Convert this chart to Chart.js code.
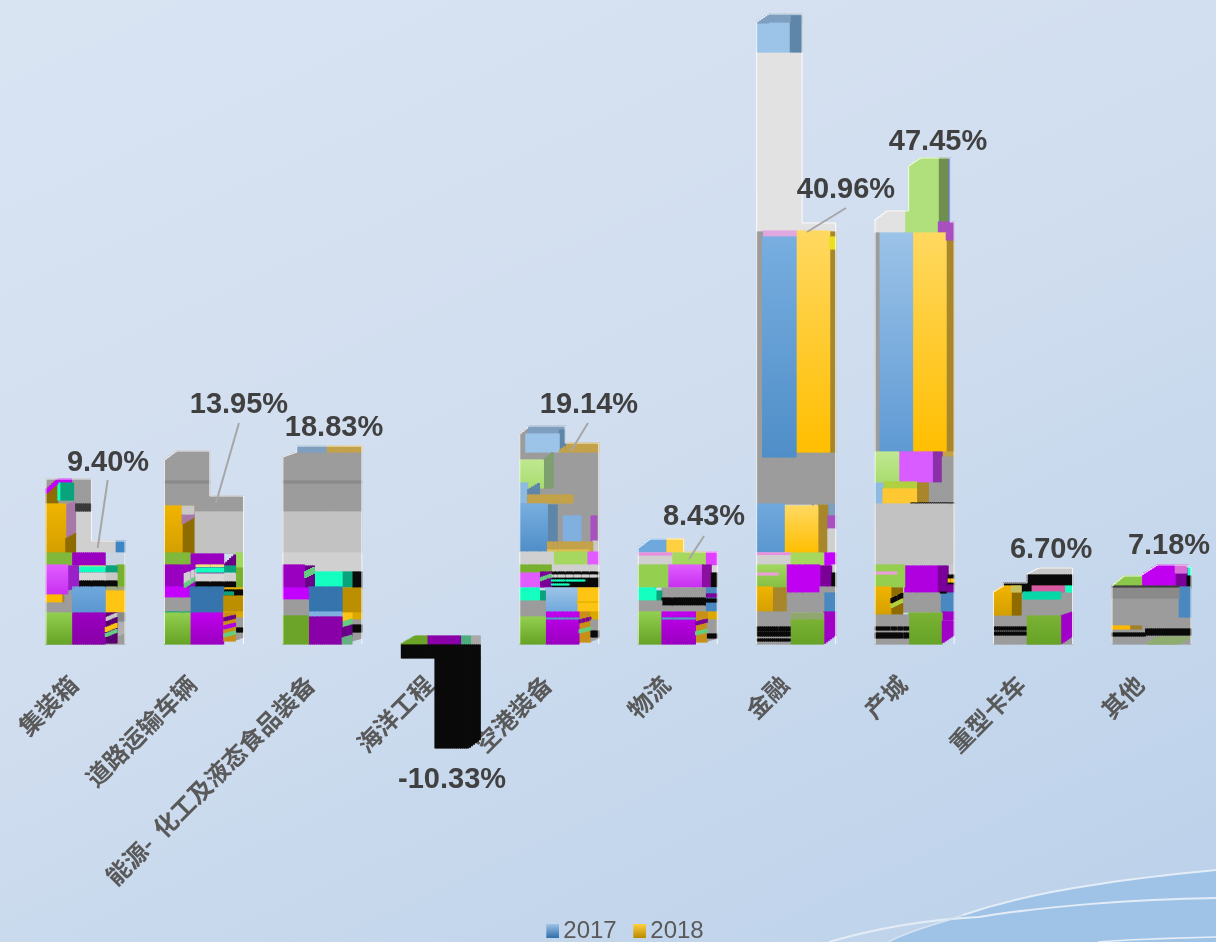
<!DOCTYPE html>
<html lang="zh">
<head>
<meta charset="utf-8">
<title>Chart</title>
<script src="https://cdn.jsdelivr.net/npm/chart.js@4"></script>
<style>
html,body{margin:0;padding:0;width:1216px;height:942px;overflow:hidden}
body{position:relative;background:linear-gradient(155deg,#d9e4f3 0%,#d1deef 45%,#bbd1ea 100%)}
svg,canvas{position:absolute;left:0;top:0}
</style>
</head>
<body>
<svg width="1216" height="942" viewBox="0 0 1216 942">
<path d="M888 942C915 928 940 924 963 915C1005 901 1045 892 1093 885C1135 878 1175 874 1216 870V942Z" fill="#9fc3e6"/>
<path d="M829 942C870 930 920 920 979 917C1040 907 1130 899 1216 898" fill="none" stroke="#e4edf7" stroke-width="2"/>
<path d="M963 915C1005 901 1045 892 1093 885C1135 878 1175 874 1216 870" fill="none" stroke="#e4edf7" stroke-width="2"/>
<path d="M888 942C915 928 940 924 963 915" fill="none" stroke="#d6e3f2" stroke-width="1.5"/>
<path d="M1098 942C1135 939 1175 938 1216 937" fill="none" stroke="#e4edf7" stroke-width="1.5"/>
</svg>
<canvas id="c" width="1216" height="942"></canvas>
<script>
const categories=['集装箱','道路运输车辆','能源-  化工及液态食品装备','海洋工程','空港装备','物流','金融','产城','重型卡车','其他'];
const series2017=[5.7,5.7,5.6,0.7,14,9.5,40,41,5,5.7];
const series2018=[9.40,13.95,18.83,-10.33,19.14,8.43,40.96,47.45,6.70,7.18];
const labelDx=[22.5,35,11.6,11.2,29.7,26.3,49.8,23.4,18,17.5];
const labelDy=[-87,-99.5,-27.7,32.7,-47.6,-42.7,-44.4,-27.5,-27,-26.2];
const leaders=[[22.2,-70,12.2,-2],[35,-81.5,12,-1.5],null,null,[28.7,-29.6,11.7,-1.6],[26.3,-23.7,11.3,-.7],[49.8,-26.4,10.8,-2.4],null,null,null];
const palette={gy:'#9c9c9c',lg:'#c2c2c2',vl:'#d0d0d0',wh:'#e2e2e2',k:'#0a0a0a',vi:'#c400ff',dp:'#6a0088',aq:'#14ffc0',te:'#0aa37c',br:'#8f6c00',tan:'#c4a24a',bm:'#3674ad',ygn:'#a6d860',
 gn:['#92cf50','#66a326'],gnd:['#7ab234','#66a326'],gnl:['#a0d860','#80b83c'],lgn:['#c0e890','#a8dc70'],pu:['#9a00c0','#8800a8'],pv:['#c000ee','#9a00c0'],mg:['#e05cff','#c830f0'],
 bl:['#78aee0','#4f8ec8'],bl2:['#6fa8dc','#5a96d0'],bl2b:['#9cc3e8','#5f9ad4'],bl3:['#9cc3e8','#6fa8dc'],ye:['#ffd860','#ffbe00'],am:['#f0b400','#d49f00']};

// each row: sub-column from, sub-column to, upper value, lower value, paint, optional rise of upper and lower value
const patchesContainer=[
[0,45,16.5,0,'gy'],[45,79,10.3,0,'gy'],[30,45,13.3,9.1,'vl'],[45,69,10.3,9.1,'vl'],[30,45,14,13.3,'#3a3a3a'],[69,79,10.3,9.1,'#3d85c6'],
[0,11,15.4,14,'br',1.1,0],[0,11,15.4,15,'vi',1.1,1.1],[11,26,16.5,16.1,'vi'],[11,27,16.1,14.4,'te'],[11,14,16.1,14.4,'aq'],
[0,19,14,9.1,'am'],[19,30,13.9,10.5,'#a878a8',.3,.6],[19,30,10.5,9.1,'br',.6,0],
[0,26,9.1,7.9,'#80b83c'],[26,60,9.1,7.9,'#9a00c0'],[60,79,9.1,7.9,'#c8d4e4'],[0,22,7.9,4.9,'mg'],[22,33,7.8,5.4,'#9a20c8',0,.3],
[33,60,7.8,5.6,'#6a0088'],[33,60,7.8,7.7,'#f0e080'],[33,60,7.7,7.2,'aq'],[33,60,7.1,6.3,'#d8d8d8'],[33,60,6.3,5.6,'k'],[60,71,7.8,7.1,'te'],[60,71,7.1,6.3,'#c8c8c8'],[60,71,6.3,5.6,'k'],[71,79,7.9,5.7,'#78b030'],
[0,15,4.9,4.1,'#ffb800'],[15,18,4.9,4.1,'#a8862a'],[18,26,4.9,4.1,'gy'],[0,26,4.1,3.1,'gy'],[26,60,5.7,3.1,'bl2'],[60,79,5.7,5.3,'#a0a880'],[60,79,5.3,3.2,'#ffc414'],
[0,26,3.1,0,'gn'],[26,60,3.1,0,'pu'],[60,71,3.1,.1,'#5a0070'],[60,71,2.6,2.3,'#c8c8c8',.5,.5],[60,71,1.6,1.2,'#ffc414',.5,.5],[60,71,1,.7,'#66cc80',.5,.5],
[71,79,3.1,.8,'#b0b0b0',0,.3],[71,79,3.1,2.3,'#8a8a8a']];
const patchesRoad=[
[0,11,18.4,9.1,'gy',.9,0],[11,45,19.3,9.1,'gy'],[45,79,14.8,9.1,'gy'],[0,45,16.3,16.1,'#8a8a8a'],[30,79,13.2,9.1,'lg'],[0,18,13.8,9.1,'am'],[18,30,13.8,9.1,'br'],[18,30,13,12,'#a878a8',.7,.7],[18,30,13.8,13,'#c8c8c8'],
[0,25,9.1,7.9,'#80b83c'],[25,59,9,7.9,'#9a00c0'],[59,71,7.9,7.8,'dp',1.1,0],[71,79,9.1,7.6,'#a0d860'],[71,79,7.6,5.6,'#78b030'],
[0,20,7.9,5.7,'#9a00c0'],[0,25,5.7,4.6,'vi'],[20,32,7.9,5.7,'#9a00c0'],[20,32,7,6,'#d0d0d0',.5,.5],[20,32,6,5.6,'#66cc80',.8,.8],
[32,59,7.9,5.7,'#7a2090'],[32,59,7.9,7.75,'#f0e080'],[32,59,7.6,7.2,'aq'],[32,59,7,6.2,'#d8d8d8'],[32,59,6.2,5.7,'k'],[59,71,7.8,7.2,'te'],[59,71,7,6.2,'#d0d0d0'],[59,71,6.2,5.7,'k'],
[25,59,5.7,3.1,'bm'],[59,79,5.6,5.4,'am'],[59,79,5.4,4.8,'k'],[59,70,5.2,4.9,'te'],[59,79,4.8,3.2,'#bb8f00'],[59,79,3.2,2.6,'#dba800'],[0,25,4.6,3.2,'gy'],[0,25,3.2,3.1,'te'],
[0,25,3.1,0,'gn'],[25,59,3.1,0,'pv'],[59,71,3.1,.3,'#c89018'],[59,71,2.6,2.3,'#6a0088',.3,.3],[59,71,1.8,1.5,'#b000e8',.3,.3],[59,71,1,.7,'#66cc80',.3,.3],[71,79,2.6,.4,'gy',0,.3],[71,79,1.6,1.2,'k']];
const patchesEnergy=[
[0,13,18.7,9.1,'gy',.5,0],[13,79,19.2,9.1,'gy'],[13,44,19.8,19.2,'#7f9fc0'],[44,79,19.8,19.2,'tan'],[0,79,16.3,16.1,'#8a8a8a'],[0,79,13.2,9.1,'lg'],[0,79,9.1,7.2,'vl'],
[0,21,7.9,5.6,'#9a00c0'],[21,32,7.8,5.4,'dp'],[21,32,7.2,6.6,'#66cc80',.5,.5],[32,59,7.2,5.7,'aq'],[59,70,7.2,5.7,'te'],[70,79,7.2,5.6,'k'],[0,25,5.6,4.4,'vi'],
[25,59,5.7,3.2,'bm'],[25,59,3.2,2.7,'#7fb0e0'],[59,79,5.6,3.1,'#bb8f00'],[70,79,3.1,2.4,'#dba800'],[0,25,4.4,2.8,'gy'],[0,25,2.8,0,'#6ba428'],[25,59,2.7,0,'#8a00a8'],
[59,70,3.1,2.2,'#ffc414'],[59,70,2.2,1.2,'#66cc80',.3,.3],[59,70,1.6,.5,'#6a0088',.3,.3],[59,70,.6,0,'#66b080',.3,0],[70,79,2.4,.3,'gy',0,.3],[70,79,1.9,1.2,'k']];
const patchesMarine=[
[0,14,0,-.1,'#6ba428',.8,0],[14,26,.8,-.1,'#6ba428'],[26,60,.8,-.1,'#8a00a8'],[60,70,.8,-.1,'#4caf7a'],[70,79,.8,-.1,'#a8a8a8'],[0,79,-.1,-1.4,'k'],[34,68,-1.4,-10.4,'k'],[68,79,-1.4,-10.4,'k',0,.9]];
const patchesAirport=[
[0,10,21,9.1,'gy',.8,0],[10,45,21.8,9.1,'gy'],[45,79,20.1,9.1,'gy'],[8,45,21.8,21,'#7f9fc0'],[6,39,21,19.2,'#9cc3e8'],[39,45,21.4,19.5,'#5f86a8'],[39,50,19.3,19.2,'tan',.8,0],[50,79,20.1,19.2,'tan'],
[0,23,18.4,15.6,'lgn'],[23,34,18.4,15.6,'#7f9f70',.8,0],[0,7,16.1,14.1,'#8ebae0'],[7,19,15.4,14.2,'#5f86a8',.7,0],[8,53,14.9,14.1,'tan'],[0,27,14,9.2,'bl'],[27,38,13.9,9.2,'#5f86a8'],
[44,61,12.8,10.3,'#7fb0e0'],[71,77,12.8,10.3,'#a850c0'],[27,73,10.2,9.2,'tan'],[27,70,9.4,9.2,'#e0c050'],[73,79,10.3,9.2,'#c8c8c8'],
[0,33,9.2,7.9,'vl'],[33,68,9.2,7.9,'ygn'],[68,79,9.2,7.9,'#e05cff'],[0,32,7.9,7.1,'#78b030'],[32,79,7.9,7.2,'vl'],[0,20,7.1,5.7,'#e05cff'],[20,32,7.2,5.7,'#7a0098'],[20,32,6.6,6.3,'#66cc80',.4,.4],
[32,79,7.2,5.7,'k'],[32,79,6.9,6.7,'#d0d0d0'],[32,65,6.4,6.3,'aq'],[32,50,6,5.9,'aq'],[0,20,5.6,4.3,'aq'],[20,25,5.3,4.3,'te'],[0,25,4.3,2.7,'gy'],[25,58,5.6,3.2,'bl3'],[58,79,5.6,3.2,'#ffc414'],[58,79,4.25,4.15,'#e8b800'],[71,79,3.2,2.4,'#dba800'],
[0,26,2.7,0,'gn'],[26,59,3.2,0,'pv'],[26,59,2.6,2.5,'#50a0c0'],[59,71,3.2,.2,'#c89018'],[59,71,2.4,2.1,'#7a0098',.3,.3],[59,71,1.4,1.1,'#66cc80',.3,.3],[71,79,2.4,.3,'gy',0,.3],[71,79,1.3,.7,'k']];
const patchesLogistics=[
[0,11,9.6,9.1,'#6fa8dc',.9,0],[11,27,10.5,9.1,'#6fa8dc'],[27,45,10.5,9.2,'#ffd040'],[45,79,9.2,9.1,'tan'],[0,33,9.1,7.9,'vl'],[0,33,9.1,8.9,'#e890e0'],[33,68,9.1,7.9,'ygn'],[68,79,9.2,7.9,'#e040ff'],
[0,29,7.9,5.7,'#94cf50'],[29,63,7.9,5.7,'mg'],[63,74,7.9,5.7,'#8a10a0'],[74,79,7.8,7.1,'#d8d8d8'],[74,79,7.1,5.7,'k'],[0,18,5.6,4.3,'aq'],[18,23,5.3,4.3,'te'],[23,67,5.6,4.6,'gy'],[23,67,4.6,3.8,'k'],[0,23,4.3,3.2,'gy'],[23,67,3.8,3.2,'gy'],
[67,79,5.6,3.2,'#4a88c0'],[67,79,5,4.7,'#7a0098'],[67,79,4.5,4.2,'k'],[0,24,3.2,0,'gn'],[24,58,3.2,0,'pv'],[24,58,2.6,2.5,'#50a0c0'],[58,69,3.2,.2,'#c89018'],[58,69,2.2,1.9,'#7a0098',.3,.3],[58,69,1.2,.9,'#66cc80',.3,.3],[69,79,3.2,2.4,'#dba800'],[69,79,2.4,.3,'gy',0,.3],[69,79,1,.6,'k']];
const patchesFinance=[
[0,45,59.2,41.2,'wh'],[45,79,42.1,41.2,'wh'],[0,34,62.2,59.2,'#9cc3e8'],[0,11,62.2,62.1,'#7f9fc0',.8,0],[11,45,63,62.2,'#7f9fc0'],[34,45,62.8,59.2,'#5f86a8'],
[0,79,19.2,14,'gy'],[0,5,41.2,18.9,'gy'],[5,6,41.2,18.7,'#607080'],[6,39,41.3,40.7,'#e0a8e0'],[6,39,40.7,18.7,'bl'],[39,73,41.3,19.2,'ye'],[73,79,41.2,19.2,'#a8862a'],[73,79,40.7,39.5,'#e8e020'],
[0,27,14,9.1,'bl2'],[27,61,13.8,9.1,'ye'],[61,72,13.9,9.1,'#a8862a'],[72,79,14,12.8,'#7f9fc0'],[72,79,12.8,11.5,'#a850c0'],[72,79,11.5,9.1,'vl'],
[0,33,9.1,7.9,'vl'],[0,33,9.1,8.95,'#e890e0'],[33,68,9.1,7.9,'ygn'],[68,79,9.1,7.9,'vi'],[0,29,7.9,5.1,'gnl'],[0,22,7.1,6.9,'#e8a0d8'],[29,63,7.9,5.1,'#c000f0'],[63,75,7.8,5.7,'#7a0098'],[75,79,7.9,7.1,'vl'],[75,79,7.1,5.7,'k'],
[63,79,5.7,5.1,'gy'],[0,16,5.7,3.2,'am'],[16,29,5.6,3.2,'#a8862a'],[29,67,5.1,3.2,'gy'],[67,79,5.1,3.2,'#4a88c0'],[0,34,3.2,0,'gy'],[0,34,1.7,1.3,'k'],[0,34,1.2,.8,'k'],[0,34,.5,.3,'k'],
[34,68,3.1,2.4,'#90a870'],[34,68,2.4,0,'gnd'],[68,79,3.2,0,'#a000c8',0,.9]];
const patchesCity=[
[0,11,42.4,41.1,'wh',.9,0],[11,30,43.3,41.1,'wh'],[30,34,43.3,41.1,'#b0e07c'],[34,45,47.8,41.1,'#b0e07c',.8,0],[45,63,48.6,41.1,'#b0e07c'],[63,74,48.6,42.2,'#6f8f50'],[74,75,48.6,42.2,'#6070e0'],[63,79,42.2,41.1,'#a850c0'],
[0,4,41.1,19.2,'gy'],[4,38,41.1,19.2,'bl2b'],[38,72,41.1,19.2,'ye'],[72,79,40.4,19.2,'#a8862a'],[72,79,41.1,40.4,'#a850c0'],
[0,23,19.2,16.2,'lgn'],[23,57,19.2,16.1,'#d85cff'],[57,68,19.2,16.1,'#8a30a8'],[68,79,19.2,18.7,'tan'],[68,79,18.7,14.1,'gy'],[53,68,16.1,14.1,'gy'],[0,7,16.1,14,'#8ebae0'],[7,41,16.2,15.5,'#b0d040'],[7,41,15.5,14,'#ffc832'],[41,53,16.1,14,'#a8862a'],[36,79,14.1,14,'k'],
[0,79,14,7.9,'lg'],[0,29,7.9,5.7,'#94cf50'],[0,22,7.2,7,'#e8a0d8'],[29,63,7.8,5.1,'#b000e0'],[63,74,7.8,5.1,'#7a0098'],[74,79,7.9,6.9,'#c8c8c8'],[74,79,6.9,5.9,'k'],[74,79,6.5,6.2,'#ffc414'],[74,79,5.9,5.1,'#7a0098'],
[0,16,5.7,2.9,'am'],[16,28,5.6,2.9,'br'],[16,28,4.5,4.1,'k',.6,.6],[16,28,3.9,3.6,'#b0d040',.6,.6],[28,66,5.1,3.2,'gy'],[66,79,5.1,3.2,'#4a88c0'],[66,72,5.2,5.1,'k'],
[0,34,2.9,0,'gy'],[0,34,1.7,1.4,'k'],[0,34,1.1,.6,'k'],[34,68,3.1,0,'gnd'],[68,79,3.2,2.4,'#a000c8'],[68,79,2.3,.1,'#a000c8',0,.8]];
const patchesTruck=[
[0,79,5.2,0,'gy'],[34,46,7,6.9,'#c8c8c8',.6,0],[46,79,7.6,6.9,'#c8c8c8'],[34,79,6.9,5.8,'k'],[9,38,6.1,5.2,'k'],[38,72,5.8,5.2,'#d85aa0'],[72,79,5.8,5.2,'aq'],
[0,9,5.2,2.9,'am',.6,0],[9,17,5.8,2.9,'am'],[17,28,5.8,2.9,'br'],[17,28,5.8,5.2,'#c8c060'],[29,67,5.2,4.5,'#08d8a8'],[0,34,1.7,1.4,'k'],[0,34,1.2,.9,'k'],[34,68,2.8,0,'gnd'],[68,79,2.8,0,'#a000c8',.4,.8]];
const patchesOther=[
[0,79,5.8,0,'gy'],[0,11,5.8,5.7,'#8cc84a',1,0],[11,30,6.8,5.7,'#8cc84a'],[30,45,6.9,5.7,'#c000f0',1,0],[45,63,7.9,5.7,'#c000f0'],[63,75,7.9,5.7,'#7a0098'],[63,75,7.9,7.1,'#d870d8'],[75,79,7.7,6.8,'aq'],[75,79,6.8,5.6,'k'],
[0,79,5.7,4.6,'#8a8a8a'],[0,67,5.8,5.7,'#404040'],[67,79,5.7,2.7,'#4a88c0'],[0,17,1.8,1.5,'#ffb800'],[17,29,1.8,1.5,'#a0802a'],[34,79,1.5,.9,'k'],[0,34,1.1,.8,'k'],[45,67,.7,0,'#90ad70'],[35,45,.1,0,'#90ad70',.6,0],[67,79,.7,0,'#90ad70',0,.7]];
const allPatches=[patchesContainer,patchesRoad,patchesEnergy,patchesMarine,patchesAirport,patchesLogistics,patchesFinance,patchesCity,patchesTruck,patchesOther];

const SUB=42, GROUP=83, zeroPx=644, unitPx=10;
let pass=0;
const colCells=Array.from({length:SUB},()=>categories.map(()=>[]));
allPatches.forEach((rows,cat)=>rows.forEach(r=>{
  const [x0,x1,hi,lo,paint,dHi=0,dLo=0]=r;
  const c0=Math.round((x0+2)/GROUP*SUB), c1=Math.round((x1+2)/GROUP*SUB);
  for(let c=c0;c<c1;c++){
    const t=(c1-c0>1)?(c-c0+.5)/(c1-c0):1;
    const top=+(hi+dHi*t).toFixed(2), bot=+(lo+dLo*t).toFixed(2);
    const cell=colCells[c][cat].filter(s=>!(s.top<=top&&s.bot>=bot));
    cell.push({top,bot,paint,gHi:hi+dHi,gLo:lo});
    colCells[c][cat]=cell;
  }
}));
function fill(ctx,seg){
  if(!seg)return 'rgba(0,0,0,0)';
  const p=palette[seg.paint]||seg.paint;
  if(!Array.isArray(p))return p;
  if(seg.pass===pass)return seg.g;
  const y=ctx.chart.scales.y;
  const g=ctx.chart.ctx.createLinearGradient(0,y.getPixelForValue(seg.gHi),0,y.getPixelForValue(seg.gLo));
  g.addColorStop(0,p[0]);g.addColorStop(1,p[1]);
  seg.g=g;seg.pass=pass;
  return g;
}
const datasets=[];
// reserve the sub-columns in order
for(let c=0;c<SUB;c++)datasets.push({label:'',stack:'c'+c,data:categories.map(()=>null)});
let maxLayer=0;
colCells.forEach(col=>col.forEach(cell=>{maxLayer=Math.max(maxLayer,cell.length)}));
for(let k=maxLayer-1;k>=0;k--){
  for(let c=0;c<SUB;c++){
    const segs=colCells[c].map(cell=>cell[k]||null);
    if(!segs.some(Boolean))continue;
    datasets.push({label:'',stack:'c'+c,data:segs.map(s=>s?[s.bot,s.top]:null),
      backgroundColor:ctx=>fill(ctx,segs[ctx.dataIndex]),inflateAmount:.5,borderWidth:0});
  }
}
const mk2017=['#9cc3e8','#2f6ea8'], mk2018=['#ffd040','#b88a00'];
datasets.push({label:'2017',stack:'c9',data:series2017,backgroundColor:mk2017[1],swatch:mk2017});
datasets.push({label:'2018',stack:'c29',data:series2018,backgroundColor:mk2018[1],swatch:mk2018});

function swatch(cols){
  const cv=document.createElement('canvas');cv.width=17;cv.height=14;
  const x=cv.getContext('2d');const g=x.createLinearGradient(0,0,0,14);
  g.addColorStop(0,cols[0]);g.addColorStop(1,cols[1]);x.fillStyle=g;x.fillRect(4,0,13,14);
  return cv;
}
const valueLabels={
  id:'valueLabels',
  afterLayout(chart){
    const l=chart.legend;
    l.left+=8.5;l.right+=8.5;l.top+=11;l.bottom+=11;
  },
  afterDatasetsDraw(chart){
    const {ctx,scales:{x,y}}=chart;
    ctx.save();
    // thin pale edge along each group's outline
    const chunk=GROUP/SUB;
    ctx.strokeStyle='rgba(255,255,255,.85)';ctx.lineWidth=1;
    categories.forEach((_,i)=>{
      if(series2018[i]<0)return;
      const cx=x.getPixelForValue(i)-GROUP/2;
      const base=y.getPixelForValue(0);
      const pts=[];
      for(let c=0;c<SUB;c++){
        const cell=colCells[c][i];
        if(!cell.length)continue;
        const t=Math.min(...cell.map(s=>y.getPixelForValue(s.top)));
        pts.push([cx+c*chunk,cx+(c+1)*chunk,t]);
      }
      ctx.beginPath();
      ctx.moveTo(pts[0][0],base);
      pts.forEach(p=>{ctx.lineTo(p[0],p[2]);ctx.lineTo(p[1],p[2]);});
      ctx.lineTo(pts[pts.length-1][1],base);
      ctx.stroke();
    });
    series2018.forEach((v,i)=>{
      const cx=x.getPixelForValue(i), cy=y.getPixelForValue(v);
      if(leaders[i]){
        const [a,b,c,d]=leaders[i];
        ctx.strokeStyle='#a6a6a6';ctx.lineWidth=2;ctx.beginPath();ctx.moveTo(cx+a,cy+b);ctx.lineTo(cx+c,cy+d);ctx.stroke();
      }
      ctx.fillStyle='#404040';ctx.font='bold 29px "Liberation Sans"';ctx.textAlign='center';ctx.textBaseline='middle';
      ctx.fillText(v.toFixed(2)+'%',cx+labelDx[i],cy+labelDy[i]);
    });
    ctx.restore();
  }
};
const chart=new Chart(document.getElementById('c'),{
  type:'bar',
  data:{labels:categories,datasets},
  plugins:[valueLabels],
  options:{
    responsive:false,animation:false,events:[],
    categoryPercentage:GROUP/118.44,barPercentage:1,
    layout:{padding:{left:26.28,right:5.28,top:0,bottom:0}},
    plugins:{
      tooltip:{enabled:false},title:{display:false},
      legend:{position:'bottom',fullSize:false,
        labels:{color:'#595959',font:{family:'"Liberation Sans"',size:24},usePointStyle:true,pointStyleWidth:1,padding:20.6,boxHeight:14,
          generateLabels:c=>c.data.datasets.map((d,i)=>({d,i})).filter(o=>o.d.swatch).map(o=>({text:o.d.label,datasetIndex:o.i,pointStyle:swatch(o.d.swatch),fillStyle:o.d.backgroundColor,lineWidth:0,strokeStyle:'rgba(0,0,0,0)',fontColor:'#595959'}))
        }}
    },
    scales:{
      x:{position:{y:0},offset:true,z:1,grid:{display:false,drawTicks:false},border:{display:false},
        ticks:{autoSkip:false,minRotation:45,maxRotation:45,padding:26,labelOffset:-12,color:'#595959',font:{family:'"Noto Sans CJK SC"',size:24,weight:'bold'}}},
      y:{display:false,stacked:false,min:-23,max:zeroPx/unitPx,grid:{display:false}}
    }
  }
});
pass=1;
chart.options.scales.y.min=zeroPx/unitPx-chart.chartArea.height/unitPx;
chart.update('none');
</script>
</body>
</html>
